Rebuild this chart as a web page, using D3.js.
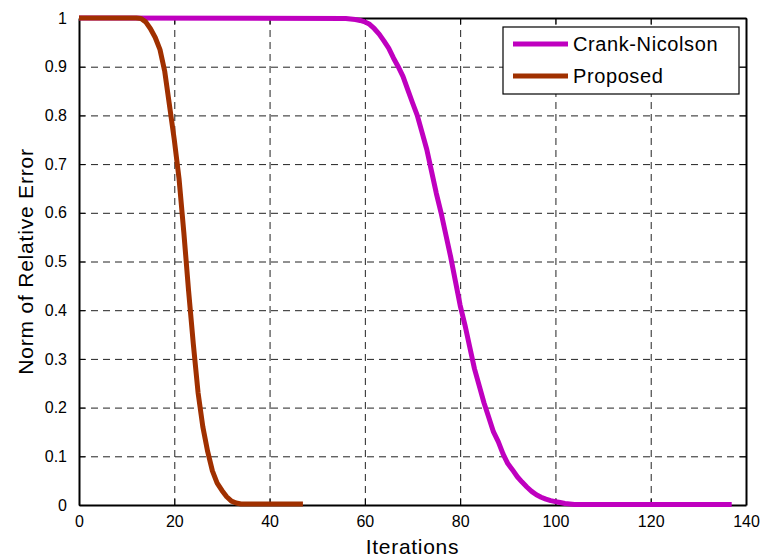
<!DOCTYPE html>
<html>
<head>
<meta charset="utf-8">
<script src="https://cdn.jsdelivr.net/npm/d3@7"></script>
<style>
  body { margin: 0; background: #fff; }
  svg text { font-family: "Liberation Sans", Arial, sans-serif; fill: #000; }
</style>
</head>
<body>
<div id="grafico"></div>
<script>
// datos
var xTicks = [0, 20, 40, 60, 80, 100, 120, 140];
var yTicks = [0, 0.1, 0.2, 0.3, 0.4, 0.5, 0.6, 0.7, 0.8, 0.9, 1];
var series = ["Crank-Nicolson", "Proposed"];

var cnIter = [0, 56, 57, 58, 59, 60, 61, 62, 63, 64, 65, 66, 67, 68, 69, 70, 71, 72, 73, 74, 75, 76, 77, 78, 79, 80,
              81, 82, 83, 84, 85, 86, 87, 88, 89, 90, 91, 92, 93, 94, 95, 96, 97, 98, 99, 100, 101, 102, 103, 104, 137];
var cnError = [1, 0.999, 0.998, 0.997, 0.995, 0.992, 0.987, 0.978, 0.967, 0.953, 0.938, 0.918, 0.9, 0.88, 0.853, 0.826,
               0.8, 0.765, 0.73, 0.685, 0.64, 0.6, 0.555, 0.51, 0.46, 0.41, 0.37, 0.325, 0.28, 0.245, 0.21, 0.18, 0.15,
               0.13, 0.105, 0.085, 0.072, 0.058, 0.047, 0.037, 0.028, 0.021, 0.016, 0.012, 0.009, 0.007, 0.005, 0.003,
               0.002, 0.001, 0.001];

var propIter = [0, 12, 13, 14, 15, 16, 17, 18, 19, 20, 21, 22, 23, 24, 25, 26, 27, 28, 29, 30, 31, 32, 33, 34, 47];
var propError = [1, 1, 0.999, 0.992, 0.978, 0.96, 0.935, 0.89, 0.82, 0.75, 0.67, 0.56, 0.44, 0.33, 0.23, 0.16, 0.11,
                 0.07, 0.045, 0.03, 0.017, 0.008, 0.004, 0.002, 0.002];

var colores = ["#bf00bf", "#a03000"];

var width = 763, height = 558;
var margin = {top: 18, right: 17, bottom: 53, left: 79};

var svg = d3.select("#grafico").append("svg")
    .attr("width", width)
    .attr("height", height);

var x = d3.scaleLinear().domain([0, 140]).range([margin.left, width - margin.right]);
var y = d3.scaleLinear().domain([0, 1]).range([height - margin.bottom, margin.top]);

// grilla punteada
var grid = svg.append("g").attr("class", "grid")
    .attr("stroke", "#222").attr("stroke-width", 1).attr("stroke-dasharray", "7,5");

grid.selectAll(".gx").data(xTicks.slice(1, -1)).enter().append("line")
    .attr("x1", function(d){ return x(d) + 0.5; }).attr("x2", function(d){ return x(d) + 0.5; })
    .attr("y1", y(1)).attr("y2", y(0));

grid.selectAll(".gy").data(yTicks.slice(1, -1)).enter().append("line")
    .attr("y1", function(d){ return y(d) + 0.5; }).attr("y2", function(d){ return y(d) + 0.5; })
    .attr("x1", x(0)).attr("x2", x(140));

// ejes estilo matlab, marcas hacia adentro
function fmtY(d){ return (d === 0 || d === 1) ? String(d) : d.toFixed(1); }

var ejeX = svg.append("g").attr("transform", "translate(0," + y(0) + ")")
    .call(d3.axisBottom(x).tickValues(xTicks).tickSize(-6).tickSizeOuter(0).tickPadding(11));
var ejeY = svg.append("g").attr("transform", "translate(" + x(0) + ",0)")
    .call(d3.axisLeft(y).tickValues(yTicks).tickFormat(fmtY).tickSize(-6).tickSizeOuter(0).tickPadding(12));
var ejeTop = svg.append("g").attr("transform", "translate(0," + y(1) + ")")
    .call(d3.axisTop(x).tickValues(xTicks).tickSize(-6).tickSizeOuter(0).tickFormat(""));
var ejeRight = svg.append("g").attr("transform", "translate(" + x(140) + ",0)")
    .call(d3.axisRight(y).tickValues(yTicks).tickSize(-6).tickSizeOuter(0).tickFormat(""));

[ejeX, ejeY, ejeTop, ejeRight].forEach(function(e){
  e.select(".domain").attr("stroke", "#000").attr("stroke-width", 2);
  e.selectAll(".tick line").attr("stroke", "#000").attr("stroke-width", 1);
  e.selectAll(".tick text").attr("font-size", 16).attr("fill", "#000")
    .style("font-family", "'Liberation Sans', Arial, sans-serif");
});

// curvas
var linea = d3.line()
    .x(function(d){ return x(d[0]); })
    .y(function(d){ return y(d[1]); });

var datosCN = d3.zip(cnIter, cnError);
var datosProp = d3.zip(propIter, propError);

svg.append("path").datum(datosCN)
    .attr("d", linea).attr("fill", "none")
    .attr("stroke", colores[0]).attr("stroke-width", 5).attr("stroke-linejoin", "round");

svg.append("path").datum(datosProp)
    .attr("d", linea).attr("fill", "none")
    .attr("stroke", colores[1]).attr("stroke-width", 5).attr("stroke-linejoin", "round");

// leyenda
var ley = svg.append("g").attr("transform", "translate(503,27)");
ley.append("rect").attr("width", 236).attr("height", 67)
    .attr("fill", "#fff").attr("stroke", "#000").attr("stroke-width", 1.2);

var items = ley.selectAll(".item").data(series).enter().append("g")
    .attr("transform", function(d, i){ return "translate(0," + (17 + i * 32) + ")"; });
items.append("line").attr("x1", 10).attr("x2", 65)
    .attr("stroke", function(d, i){ return colores[i]; }).attr("stroke-width", 5);
items.append("text").attr("x", 70).attr("dy", "0.36em")
    .attr("font-size", 20).attr("letter-spacing", 0.6)
    .text(function(d){ return d; });

// titulos de ejes
svg.append("text")
    .attr("x", (x(0) + x(140)) / 2).attr("y", 554)
    .attr("text-anchor", "middle").attr("font-size", 21).attr("letter-spacing", 0.7)
    .text("Iterations");

svg.append("text")
    .attr("transform", "translate(33," + (y(0.5)) + ") rotate(-90)")
    .attr("text-anchor", "middle").attr("font-size", 21).attr("letter-spacing", 0.8)
    .text("Norm of Relative Error");
</script>
</body>
</html>
